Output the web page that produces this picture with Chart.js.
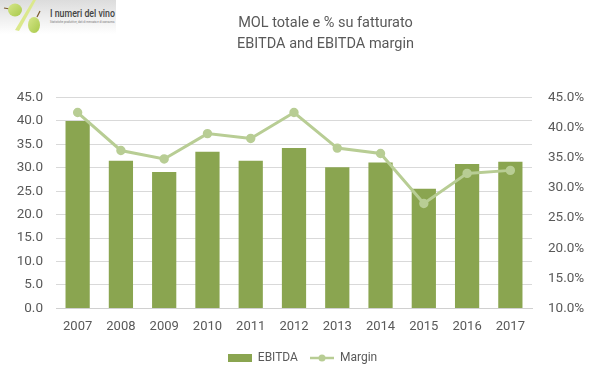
<!DOCTYPE html>
<html>
<head>
<meta charset="utf-8">
<style>
body { margin: 0; background: #fff; }
#wrap { position: relative; width: 599px; height: 378px; }
#logo { position: absolute; left: 0; top: 0; }
</style>
<script src="https://cdn.jsdelivr.net/npm/chart.js@4"></script>
</head>
<body>
<div id="wrap">
<canvas id="mainChart" width="599" height="378"></canvas>
<svg id="logo" width="118" height="36">
  <defs>
    <linearGradient id="bg" x1="0" y1="0" x2="0" y2="1">
      <stop offset="0" stop-color="#dcdcdc"/>
      <stop offset="1" stop-color="#ffffff"/>
    </linearGradient>
    <linearGradient id="grape" x1="0" y1="0" x2="1" y2="1">
      <stop offset="0" stop-color="#d6e68a"/>
      <stop offset="1" stop-color="#a8c94a"/>
    </linearGradient>
  </defs>
  <rect width="116" height="34" fill="url(#bg)"/>
  <path d="M4 8 L10 9" stroke="#7a5a30" stroke-width="1.2"/>
  <ellipse cx="15" cy="10" rx="7" ry="6.5" fill="url(#grape)"/>
  <path d="M33 0 L36 0 L19 31 L15 30 Z" fill="#dbe88c"/>
  <path d="M40 11 L37 17" stroke="#7a5a30" stroke-width="1.2"/>
  <ellipse cx="34" cy="25" rx="6" ry="8" fill="url(#grape)"/>
  <text x="50" y="17" font-family="Roboto" font-size="10.5" font-weight="500" fill="#444" textLength="65" lengthAdjust="spacingAndGlyphs">I numeri del vino</text>
  <text x="50" y="23" font-family="Roboto" font-size="3.6" fill="#777" textLength="65" lengthAdjust="spacingAndGlyphs">Statistiche produttive, dati di mercato e di consumo.</text>
</svg>
</div>
<script>
const years = ['2007', '2008', '2009', '2010', '2011', '2012', '2013', '2014', '2015', '2016', '2017'];
const ebitda = [40.0, 31.5, 29.1, 33.4, 31.5, 34.2, 30.1, 31.1, 25.5, 30.8, 31.3];
const margin = [42.5, 36.2, 34.8, 39.0, 38.2, 42.5, 36.6, 35.7, 27.4, 32.4, 32.9];
const titleLines = ['MOL totale e % su fatturato', 'EBITDA and EBITDA margin'];

const barColor = '#8aa550';
const lineColor = '#b8cd94';
const textColor = '#595959';
const fontName = 'Roboto, sans-serif';

// legend swatches, same width so the labels line up like the original
function swatch(draw) {
    let c = document.createElement('canvas');
    c.width = 24;
    c.height = 10;
    draw(c.getContext('2d'));
    return c;
}
const barSwatch = swatch(function (g) {
    g.fillStyle = barColor;
    g.fillRect(0, 1, 24, 8);
});
const lineSwatch = swatch(function (g) {
    g.strokeStyle = lineColor;
    g.lineWidth = 2.5;
    g.beginPath();
    g.moveTo(0, 5);
    g.lineTo(24, 5);
    g.stroke();
    g.fillStyle = lineColor;
    g.beginPath();
    g.arc(12, 5, 3.5, 0, Math.PI * 2);
    g.fill();
});

// title and legend are not centred on the canvas in the original
const shiftBlocks = {
    id: 'shiftBlocks',
    afterLayout: function (chart) {
        chart.titleBlock.left += 26;
        chart.titleBlock.right += 26;
        chart.legend.left += 3;
        chart.legend.right += 3;
    }
};

new Chart(document.getElementById('mainChart').getContext('2d'), {
    plugins: [shiftBlocks],
    data: {
        labels: years,
        datasets: [{
            type: 'line',
            label: 'Margin',
            data: margin,
            yAxisID: 'y2',
            borderColor: lineColor,
            backgroundColor: lineColor,
            borderWidth: 3,
            pointRadius: 3.2,
            pointBackgroundColor: lineColor,
            tension: 0,
            order: 1
        }, {
            type: 'bar',
            label: 'EBITDA',
            data: ebitda,
            yAxisID: 'y',
            backgroundColor: barColor,
            categoryPercentage: 1,
            barPercentage: 0.56,
            order: 2
        }]
    },
    options: {
        responsive: false,
        animation: false,
        layout: { padding: { top: 8.5, bottom: 4 } },
        plugins: {
            title: {
                display: true,
                text: titleLines,
                color: textColor,
                font: { family: fontName, size: 14.5, weight: 'normal', lineHeight: 1.45 },
                padding: { top: 4, bottom: 42.9 }
            },
            legend: {
                position: 'bottom',
                labels: {
                    color: textColor,
                    font: { family: fontName, size: 12 },
                    usePointStyle: true,
                    pointStyleWidth: 24,
                    boxHeight: 10,
                    padding: 12,
                    generateLabels: function () {
                        return [
                            { text: 'EBITDA', pointStyle: barSwatch, fontColor: textColor, datasetIndex: 1 },
                            { text: 'Margin', pointStyle: lineSwatch, fontColor: textColor, datasetIndex: 0 }
                        ];
                    }
                }
            }
        },
        scales: {
            x: {
                grid: { display: false },
                border: { color: '#d0d0d0' },
                afterFit: function (s) { s.height += 2; },
                ticks: { color: textColor, font: { family: fontName, size: 13 }, maxRotation: 0, autoSkip: false, padding: 3 }
            },
            y: {
                position: 'left',
                min: 0,
                max: 45,
                grid: { color: '#d9d9d9', drawTicks: false },
                border: { display: false },
                afterFit: function (s) { s.width = 56; },
                ticks: {
                    stepSize: 5,
                    color: textColor,
                    padding: 13,
                    font: { family: fontName, size: 13.5 },
                    callback: function (v) { return v.toFixed(1); }
                }
            },
            y2: {
                position: 'right',
                min: 10,
                max: 45,
                grid: { display: false },
                border: { display: false },
                afterFit: function (s) { s.width = 67; },
                ticks: {
                    stepSize: 5,
                    color: textColor,
                    padding: 8,
                    font: { family: fontName, size: 13.5 },
                    callback: function (v) { return v.toFixed(1) + '%'; }
                }
            }
        }
    }
});
</script>
</body>
</html>
